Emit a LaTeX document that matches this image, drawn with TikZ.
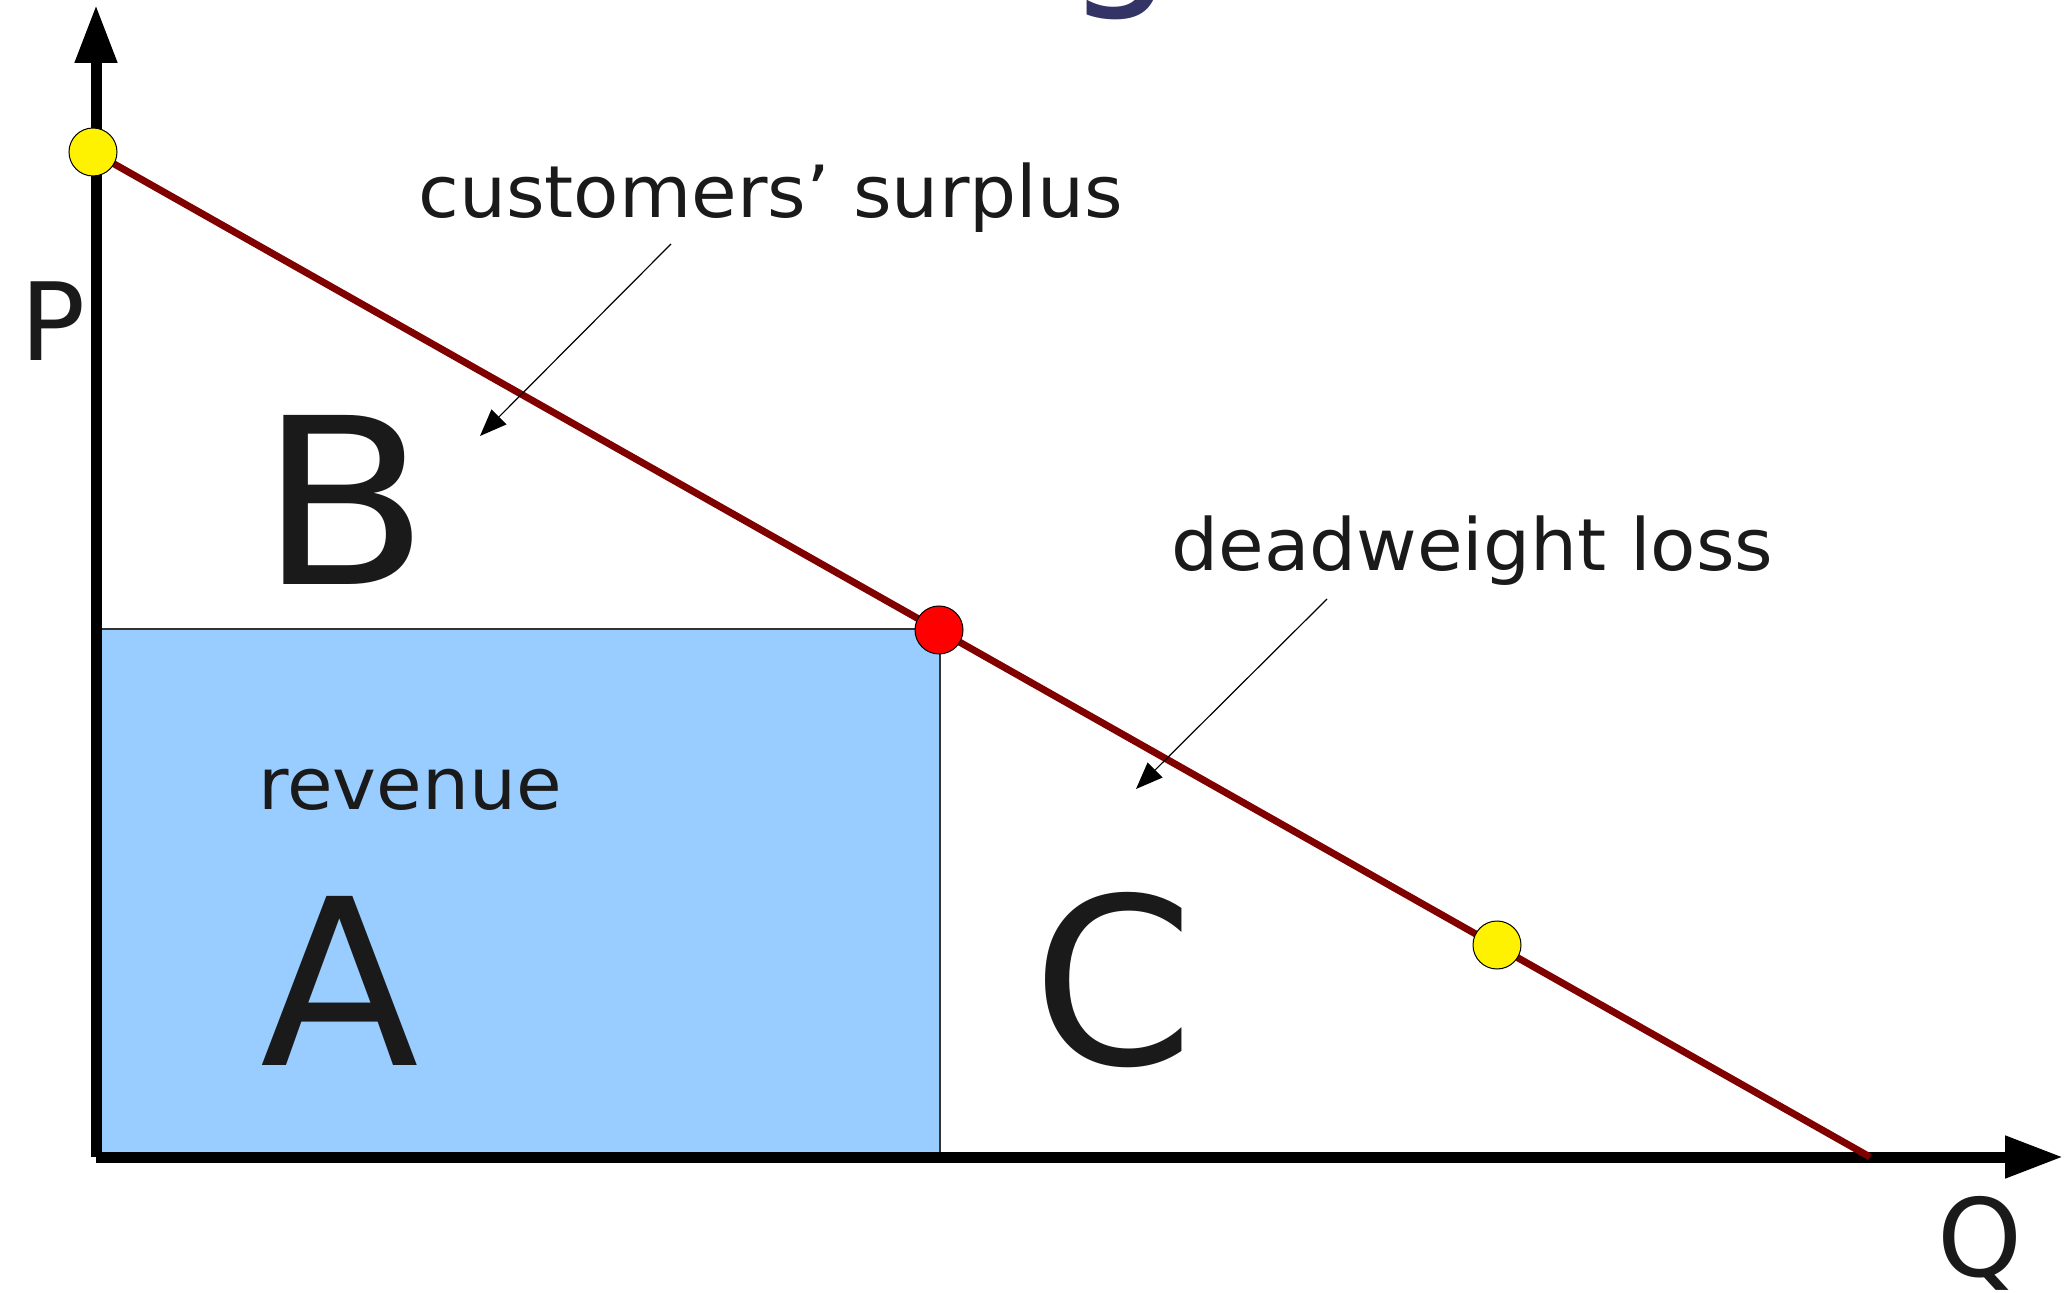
\documentclass[tikz,border=0pt]{standalone}
\usepackage{fontspec}
\setmainfont{DejaVu Sans}
\usetikzlibrary{arrows.meta}
\definecolor{demand}{HTML}{800000}
\definecolor{revblue}{HTML}{99CCFF}
\definecolor{txt}{HTML}{1A1A1A}
\definecolor{navy}{HTML}{333366}
\begin{document}
\begin{tikzpicture}[x=0.5pt,y=-0.5pt,
  axis/.style={line width=5.5pt,-{Triangle[length=29pt,width=20pt]}},
  demandline/.style={line width=3.5pt,draw=demand},
  pt/.style={circle,draw=black,line width=0.5pt,minimum size=24pt,inner sep=0pt},
  callout/.style={line width=0.6pt,-{Triangle[length=13.5pt,width=10.5pt]}},
  lbl/.style={text=txt,font=\fontsize{36pt}{40pt}\selectfont\addfontfeature{FakeStretch=1.03},inner sep=0pt,anchor=base west},
  big/.style={text=txt,font=\fontsize{116pt}{120pt}\selectfont,inner sep=0pt,anchor=base west},
  axlbl/.style={text=txt,font=\fontsize{54pt}{60pt}\selectfont,inner sep=0pt,anchor=base west}]
\useasboundingbox (0,0) rectangle (2072,1293);
\clip (0,0) rectangle (2072,1293);
% fragment of a cut-off title
\node[anchor=base west,inner sep=0pt,text=navy,font=\fontsize{85pt}{90pt}\selectfont] (titlefrag) at (1066,-15) {g};
% revenue rectangle
\fill[revblue] (96,629) rectangle (940,1157);
\draw[line width=0.6pt,draw=black!80] (96,629) -- (940,629) -- (940,1157);
% axes
\coordinate (O) at (96,1157);
\coordinate (ytip) at (96,5);
\coordinate (xtip) at (2063,1157);
\draw[axis] (O) -- (ytip);
\draw[axis] (O) -- (xtip);
% demand line
\coordinate (D0) at (93,152);
\coordinate (D1) at (1870,1157);
\draw[demandline] (D0) -- (D1);
\node[pt,fill=yellow] (p1) at (93,152) {};
\node[pt,fill=red] (pm) at (939,630) {};
\node[pt,fill=yellow] (p2) at (1497,945) {};
% labels
\node[lbl] (cs) at (418,218) {customers’ surplus};
\coordinate (csS) at (671,244);
\coordinate (csT) at (480,436);
\draw[callout] (csS) -- (csT);
\node[lbl] (dw) at (1171,571) {deadweight loss};
\coordinate (dwS) at (1327,599);
\coordinate (dwT) at (1136,789);
\draw[callout] (dwS) -- (dwT);
\node[lbl] (rev) at (258,810) {revenue};
\node[big] (A) at (260,1065) {A};
\node[big,font=\fontsize{116pt}{120pt}\selectfont\addfontfeature{FakeStretch=1.07}] (B) at (259,585) {B};
\node[big] (C) at (1032,1064) {C};
\node[axlbl] (P) at (20,361) {P};
\node[axlbl] (Q) at (1937,1276) {Q};
\end{tikzpicture}
\end{document}
